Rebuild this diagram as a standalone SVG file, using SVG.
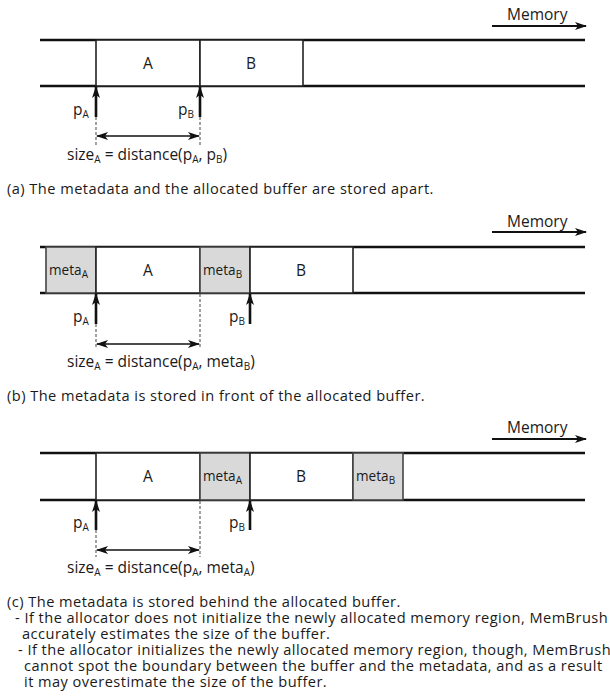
<svg xmlns="http://www.w3.org/2000/svg" width="610" height="696" viewBox="0 0 610 696">
<style>
text{font-family:"Open Sans","Lato","DejaVu Sans",sans-serif;fill:#1a1a1a}
.cap{font-size:14.6px;letter-spacing:0.46px}
.lbl{font-size:15.5px}
.meta{font-size:13.6px}
.sub{font-size:10px}
.bus{stroke:#111;stroke-width:2.6;fill:none}
.cell{fill:#fff;stroke:#222;stroke-width:1.6}
.mcell{fill:#d9d9d9;stroke:#444;stroke-width:1.6}
.ptr{stroke:#111;stroke-width:2.6;fill:none;marker-end:url(#head)}
.dim{stroke:#111;stroke-width:1.4;fill:none;marker-start:url(#head);marker-end:url(#head)}
.mem{stroke:#111;stroke-width:2.2;fill:none;marker-end:url(#head)}
.dash{stroke:#555;stroke-width:1.1;stroke-dasharray:3,2;fill:none}
</style>
<defs>
<marker id="head" viewBox="0 0 12 8" refX="11" refY="4" markerWidth="12" markerHeight="8" markerUnits="userSpaceOnUse" orient="auto-start-reverse">
<path d="M0,0 L12,4 L0,8 L3,4 z" fill="#111"/>
</marker>
</defs>

<!-- Panel (a) -->
<g id="panel-a">
<g id="a-bus"><line class="bus" x1="40" y1="40" x2="585" y2="40"/><line class="bus" x1="40" y1="86" x2="585" y2="86"/></g>
<g id="a-cellA"><rect class="cell" x="96" y="40" width="104" height="46"/><text class="lbl" x="148" y="69" text-anchor="middle">A</text></g>
<g id="a-cellB"><rect class="cell" x="200" y="40" width="103" height="46"/><text class="lbl" x="251" y="69" text-anchor="middle">B</text></g>
<g id="a-memory"><text class="lbl" x="507" y="20">Memory</text></g>
<g id="a-pA"><text class="lbl" x="73" y="115">p<tspan class="sub" dy="3">A</tspan></text></g>
<g id="a-pB"><text class="lbl" x="178" y="115">p<tspan class="sub" dy="3">B</tspan></text></g>
<g id="a-size"><text class="lbl" x="67" y="160">size<tspan class="sub" dy="3">A</tspan><tspan dy="-3"> = distance(p</tspan><tspan class="sub" dy="3">A</tspan><tspan dy="-3">, p</tspan><tspan class="sub" dy="3">B</tspan><tspan dy="-3">)</tspan></text></g>
<g id="a-caption"><text class="cap" x="7" y="194">(a) The metadata and the allocated buffer are stored apart.</text></g>
</g>

<!-- Panel (b) -->
<g id="panel-b">
<g id="b-bus"><line class="bus" x1="40" y1="247" x2="585" y2="247"/><line class="bus" x1="40" y1="293" x2="585" y2="293"/></g>
<g id="b-metaA"><rect class="mcell" x="46" y="247" width="50" height="46"/><text class="meta" x="49" y="275">meta<tspan class="sub" dy="3">A</tspan></text></g>
<g id="b-cellA"><rect class="cell" x="96" y="247" width="104" height="46"/><text class="lbl" x="148" y="276" text-anchor="middle">A</text></g>
<g id="b-metaB"><rect class="mcell" x="200" y="247" width="50" height="46"/><text class="meta" x="203" y="275">meta<tspan class="sub" dy="3">B</tspan></text></g>
<g id="b-cellB"><rect class="cell" x="250" y="247" width="103" height="46"/><text class="lbl" x="301" y="276" text-anchor="middle">B</text></g>
<g id="b-memory"><text class="lbl" x="507" y="227">Memory</text></g>
<g id="b-pA"><text class="lbl" x="73" y="322">p<tspan class="sub" dy="3">A</tspan></text></g>
<g id="b-pB"><text class="lbl" x="229" y="322">p<tspan class="sub" dy="3">B</tspan></text></g>
<g id="b-size"><text class="lbl" x="67" y="367">size<tspan class="sub" dy="3">A</tspan><tspan dy="-3"> = distance(p</tspan><tspan class="sub" dy="3">A</tspan><tspan dy="-3">, meta</tspan><tspan class="sub" dy="3">B</tspan><tspan dy="-3">)</tspan></text></g>
<g id="b-caption"><text class="cap" x="7" y="401">(b) The metadata is stored in front of the allocated buffer.</text></g>
</g>

<!-- Panel (c) -->
<g id="panel-c">
<g id="c-bus"><line class="bus" x1="40" y1="453" x2="585" y2="453"/><line class="bus" x1="40" y1="500" x2="585" y2="500"/></g>
<g id="c-cellA"><rect class="cell" x="96" y="453" width="104" height="47"/><text class="lbl" x="148" y="482" text-anchor="middle">A</text></g>
<g id="c-metaA"><rect class="mcell" x="200" y="453" width="50" height="47"/><text class="meta" x="203" y="481">meta<tspan class="sub" dy="3">A</tspan></text></g>
<g id="c-cellB"><rect class="cell" x="250" y="453" width="103" height="47"/><text class="lbl" x="301" y="482" text-anchor="middle">B</text></g>
<g id="c-metaB"><rect class="mcell" x="353" y="453" width="50" height="47"/><text class="meta" x="356" y="481">meta<tspan class="sub" dy="3">B</tspan></text></g>
<g id="c-memory"><text class="lbl" x="507" y="433">Memory</text></g>
<g id="c-pA"><text class="lbl" x="73" y="528">p<tspan class="sub" dy="3">A</tspan></text></g>
<g id="c-pB"><text class="lbl" x="229" y="528">p<tspan class="sub" dy="3">B</tspan></text></g>
<g id="c-size"><text class="lbl" x="67" y="573">size<tspan class="sub" dy="3">A</tspan><tspan dy="-3"> = distance(p</tspan><tspan class="sub" dy="3">A</tspan><tspan dy="-3">, meta</tspan><tspan class="sub" dy="3">A</tspan><tspan dy="-3">)</tspan></text></g>
<g id="c-caption">
<text class="cap" x="7" y="607">(c) The metadata is stored behind the allocated buffer.</text>
<text class="cap" x="15" y="623">- If the allocator does not initialize the newly allocated memory region, MemBrush</text>
<text class="cap" x="22" y="639">accurately estimates the size of the buffer.</text>
<text class="cap" x="18" y="655">- If the allocator initializes the newly allocated memory region, though, MemBrush</text>
<text class="cap" x="24" y="671">cannot spot the boundary between the buffer and the metadata, and as a result</text>
<text class="cap" x="24" y="687">it may overestimate the size of the buffer.</text>
</g>
</g>

<!-- Connectors -->
<g id="connectors">
<line class="mem" x1="492" y1="26" x2="586" y2="26"/>
<line class="mem" x1="492" y1="232" x2="586" y2="232"/>
<line class="mem" x1="492" y1="439" x2="586" y2="439"/>

<line class="ptr" x1="96" y1="117" x2="96" y2="87"/>
<line class="ptr" x1="200" y1="117" x2="200" y2="87"/>
<line class="dash" x1="96" y1="117" x2="96" y2="145"/>
<line class="dash" x1="200" y1="117" x2="200" y2="145"/>
<line class="dim" x1="97" y1="136" x2="199" y2="136"/>

<line class="ptr" x1="96" y1="324" x2="96" y2="294"/>
<line class="ptr" x1="250" y1="324" x2="250" y2="294"/>
<line class="dash" x1="96" y1="324" x2="96" y2="347"/>
<line class="dash" x1="200" y1="294" x2="200" y2="347"/>
<line class="dim" x1="97" y1="344" x2="199" y2="344"/>

<line class="ptr" x1="96" y1="530" x2="96" y2="501"/>
<line class="ptr" x1="250" y1="530" x2="250" y2="501"/>
<line class="dash" x1="96" y1="530" x2="96" y2="557"/>
<line class="dash" x1="200" y1="501" x2="200" y2="557"/>
<line class="dim" x1="97" y1="550" x2="199" y2="550"/>
</g>
</svg>
